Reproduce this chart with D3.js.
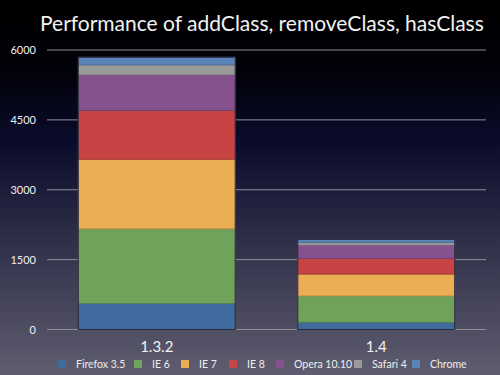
<!DOCTYPE html>
<html>
<head>
<meta charset="utf-8">
<script src="https://cdn.jsdelivr.net/npm/d3@7"></script>
<style>
  html, body { margin: 0; padding: 0; background: #000; }
  svg { display: block; font-family: Lato, "Open Sans", sans-serif; }
</style>
</head>
<body>
<div id="chart"></div>
<script>
// Data
const versions = ["1.3.2", "1.4"];
const browsers = ["Firefox 3.5", "IE 6", "IE 7", "IE 8", "Opera 10.10", "Safari 4", "Chrome"];
const colors = ["#3f6b9e", "#70a25c", "#ebae55", "#c84343", "#86528d", "#9a9a9a", "#5a84b8"];
const timesV132 = [560, 1600, 1495, 1045, 765, 215, 165];
const timesV14 = [155, 565, 470, 335, 285, 60, 65];
const yTicks = [0, 1500, 3000, 4500, 6000];

function drawChart() {
    const W = 500, H = 375;

    const svg = d3.select("#chart")
        .append("svg")
        .attr("width", W)
        .attr("height", H);

    // Keynote style background gradient
    const defs = svg.append("defs");
    const grad = defs.append("linearGradient")
        .attr("id", "bg")
        .attr("x1", 0).attr("y1", 0).attr("x2", 0).attr("y2", 1);
    [["0%", "#000000"], ["18%", "#010108"], ["38%", "#0b0c2b"], ["62%", "#2c2c46"], ["100%", "#5f5d6f"]]
        .forEach(([o, c]) => grad.append("stop").attr("offset", o).attr("stop-color", c));
    svg.append("rect").attr("width", W).attr("height", H).attr("fill", "url(#bg)");

    // Title
    svg.append("text")
        .attr("x", 40)
        .attr("y", 31)
        .attr("fill", "#f2f2f2")
        .style("font-size", "21px")
        .text("Performance of addClass, removeClass, hasClass");

    const x = d3.scaleBand()
        .domain(versions)
        .range([47, 486])
        .paddingInner(0.285)
        .paddingOuter(0.1425);

    const y = d3.scaleLinear()
        .domain([0, 6000])
        .range([329.5, 50]);

    // Gridlines + y labels
    const yAxis = svg.append("g")
        .call(d3.axisLeft(y).tickValues(yTicks).tickFormat(d3.format("d")).tickSize(0).tickPadding(11))
        .attr("transform", "translate(47,0)");
    yAxis.select(".domain").remove();
    yAxis.selectAll("text")
        .attr("fill", "#f0f0f0")
        .style("font-size", "11px")
        .style("font-family", "Lato, sans-serif");

    svg.append("g").selectAll("line")
        .data(yTicks)
        .enter()
        .append("line")
        .attr("x1", 47)
        .attr("x2", 486)
        .attr("y1", d => y(d))
        .attr("y2", d => y(d))
        .attr("stroke", "#8d8d96")
        .attr("stroke-width", 1);

    // Stack the series
    const rows = versions.map((v, i) => {
        const row = { version: v };
        const vals = i === 0 ? timesV132 : timesV14;
        browsers.forEach((b, j) => { row[b] = vals[j]; });
        return row;
    });
    const series = d3.stack().keys(browsers)(rows);

    const bars = svg.append("g");
    series.forEach((s, k) => {
        bars.selectAll(null)
            .data(s)
            .enter()
            .append("rect")
            .attr("x", d => x(d.data.version))
            .attr("y", d => y(d[1]))
            .attr("width", x.bandwidth())
            .attr("height", d => y(d[0]) - y(d[1]))
            .attr("fill", colors[k])
            .attr("stroke", d3.color(colors[k]).darker(0.6))
            .attr("stroke-width", 0.8);
    });

    // Outline around each bar
    svg.append("g").selectAll("rect")
        .data(rows)
        .enter()
        .append("rect")
        .attr("x", d => x(d.version))
        .attr("y", (d, i) => y(d3.sum(i === 0 ? timesV132 : timesV14)))
        .attr("width", x.bandwidth())
        .attr("height", (d, i) => y(0) - y(d3.sum(i === 0 ? timesV132 : timesV14)))
        .attr("fill", "none")
        .attr("stroke", "#2a2c3c")
        .attr("stroke-width", 1);

    // Category labels
    svg.append("g").selectAll("text")
        .data(versions)
        .enter()
        .append("text")
        .attr("x", d => x(d) + x.bandwidth() / 2)
        .attr("y", 352)
        .attr("text-anchor", "middle")
        .attr("fill", "#f2f2f2")
        .style("font-size", "15px")
        .text(d => d);

    // Legend
    const legendX = [58, 134, 181, 229, 276, 354, 412];
    const legend = svg.append("g");
    browsers.forEach((b, i) => {
        legend.append("rect")
            .attr("x", legendX[i])
            .attr("y", 360)
            .attr("width", 8)
            .attr("height", 8)
            .attr("fill", colors[i]);
        legend.append("text")
            .attr("x", legendX[i] + 18)
            .attr("y", 368)
            .attr("fill", "#eeeeee")
            .style("font-size", "10.5px")
            .text(b);
    });
}

drawChart();
</script>
</body>
</html>
